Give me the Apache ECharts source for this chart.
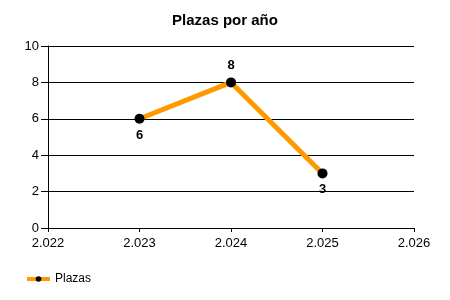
<!DOCTYPE html>
<html><head><meta charset="utf-8">
<script src="https://cdn.jsdelivr.net/npm/echarts@6/dist/echarts.min.js"></script>
<style>html,body{margin:0;padding:0;background:#fff}#c{width:450px;height:300px}</style>
</head><body><div id="c"></div>
<script>
var years = [2023, 2024, 2025];
var values = [6, 8, 3];
var labelPos = ['bottom', 'top', 'bottom'];
var seriesName = 'Plazas';
var titleText = 'Plazas por año';

var chart = echarts.init(document.getElementById('c'), null, {renderer: 'canvas'});
var font = 'Liberation Sans, Arial, sans-serif';
var data = years.map(function (y, i) {
  return {value: [y, values[i]], label: {position: labelPos[i]}};
});
chart.setOption({
  animation: false,
  title: {text: titleText, left: 'center', top: 8, textStyle: {fontFamily: font, fontSize: 15, fontWeight: 'bold', color: '#000'}},
  grid: {left: 48, right: 36, top: 46, bottom: 72},
  legend: {left: 20, top: 268, itemWidth: 23, itemHeight: 7, itemGap: 4,
    lineStyle: {width: 4},
    textStyle: {fontFamily: font, fontSize: 12, color: '#000'}, data: [seriesName]},
  xAxis: {type: 'value', min: 2022, max: 2026, interval: 1,
    axisLine: {lineStyle: {color: '#000'}}, axisTick: {show: true, length: 4, lineStyle: {color: '#000'}},
    splitLine: {show: false},
    axisLabel: {fontFamily: font, fontSize: 13, color: '#000', margin: 9,
      formatter: function (v) { var s = String(v); return s.slice(0, 1) + '.' + s.slice(1); }}},
  yAxis: {type: 'value', min: 0, max: 10, interval: 2,
    axisLine: {show: true, lineStyle: {color: '#000'}}, axisTick: {show: true, length: 7, lineStyle: {color: '#000'}},
    splitLine: {show: true, lineStyle: {color: '#000', width: 1}},
    axisLabel: {fontFamily: font, fontSize: 13, color: '#000', margin: 9}},
  series: [{name: seriesName, type: 'line', data: data, symbol: 'circle', symbolSize: 10,
    lineStyle: {color: '#FF9900', width: 5}, itemStyle: {color: '#000'},
    label: {show: true, fontFamily: font, fontSize: 13, fontWeight: 'bold', color: '#000', distance: 5}}]
});
</script></body></html>
